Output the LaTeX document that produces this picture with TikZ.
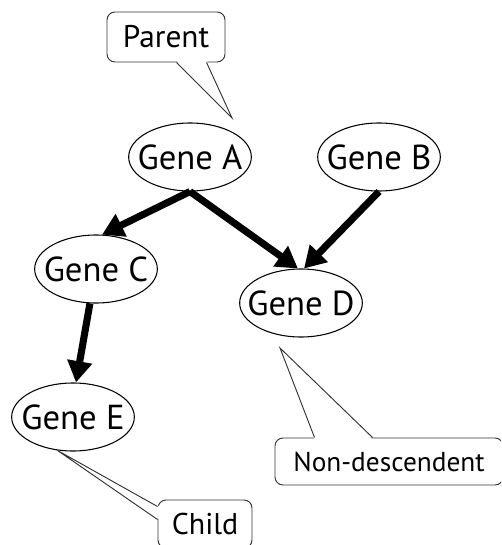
\documentclass[tikz,border=0pt]{standalone}
\usepackage{fontspec}
\setmainfont{PT Sans}
\usetikzlibrary{shapes.geometric,arrows.meta,calc}
\begin{document}
\begin{tikzpicture}[x=0.75pt,y=-0.75pt,
  gene/.style={ellipse,draw=black,line width=0.8pt,fill=white,
    minimum width=92pt,minimum height=51pt,inner sep=0pt},
  genetext/.style={font=\fontsize{26}{30}\selectfont},
  link/.style={line width=5.3pt,-{Triangle[length=16pt,width=18pt]}},
  callout/.style={rectangle,draw=black!80,line width=0.7pt,rounded corners=6pt,
    fill=white,inner sep=0pt},
  tail/.style={draw=black!80,line width=0.7pt,line join=miter}]
\useasboundingbox (0,0) rectangle (501,545);
\clip (0,0) rectangle (501,545);

% genes
\node[gene,label={[genetext]center:Gene A}] (A) at (190,157) {};
\node[gene,label={[genetext]center:Gene B}] (B) at (379,157) {};
\node[gene,label={[genetext]center:Gene C}] (C) at (96,269) {};
\node[gene,label={[genetext]center:Gene D}] (D) at (301,303) {};
\node[gene,label={[genetext]center:Gene E}] (E) at (73,417) {};

% dependencies
\draw[link] (A.south) -- (C.80);
\draw[link] (A.south) -- (D.95);
\draw[link] (B.south) -- (D.85);
\draw[link] (C.-100) -- (E.85);

% callouts
\node[callout,minimum width=88.5pt,minimum height=37.5pt,
  font=\fontsize{23.5}{26}\selectfont] (par) at (166,37) {Parent};
\node[callout,minimum width=70.5pt,minimum height=36pt,
  font=\fontsize{22.5}{26}\selectfont] (chi) at (205,524) {Child};
\node[callout,minimum width=171pt,minimum height=35.25pt,
  font=\fontsize{20.5}{24}\selectfont] (non) at (389,461.5) {Non-descendent};

\coordinate (ptip) at (232,118);
\coordinate (ntip) at (280,348);

% speech tails
\fill[white] ($(par.south west)+(70,-2)$) -- (ptip) -- ($(par.south west)+(100,-2)$) -- cycle;
\draw[tail] ($(par.south west)+(70,0)$) -- (ptip) -- ($(par.south west)+(100,0)$);

\fill[white] ($(chi.north west)+(2,7)$) -- (E.-115) -- ($(chi.north west)+(2,20)$) -- cycle;
\draw[tail] ($(chi.north west)+(0,7)$) -- (E.-115) -- ($(chi.north west)+(0,20)$);

\fill[white] ($(non.north west)+(40,2)$) -- (ntip) -- ($(non.north west)+(98,2)$) -- cycle;
\draw[tail] ($(non.north west)+(40,0)$) -- (ntip) -- ($(non.north west)+(98,0)$);
\end{tikzpicture}
\end{document}
